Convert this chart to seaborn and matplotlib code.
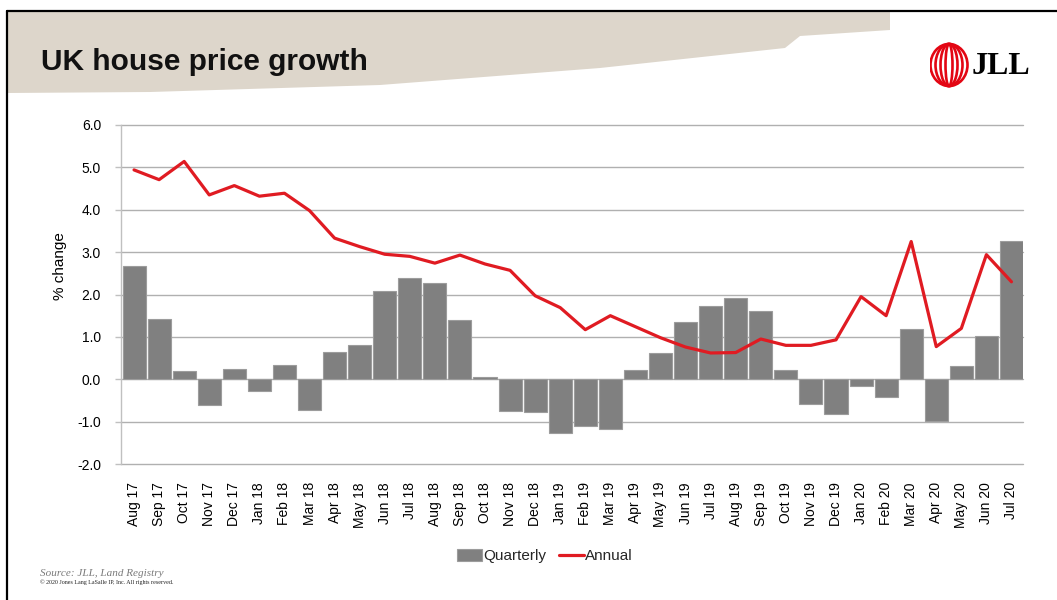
import numpy as np
import pandas as pd
import matplotlib
matplotlib.use("Agg")
import matplotlib.pyplot as plt
import seaborn as sns
from matplotlib.patches import Polygon, Ellipse, Patch
from matplotlib.lines import Line2D

# ---- data ----
months = ["Aug 17", "Sep 17", "Oct 17", "Nov 17", "Dec 17", "Jan 18", "Feb 18", "Mar 18",
          "Apr 18", "May 18", "Jun 18", "Jul 18", "Aug 18", "Sep 18", "Oct 18", "Nov 18",
          "Dec 18", "Jan 19", "Feb 19", "Mar 19", "Apr 19", "May 19", "Jun 19", "Jul 19",
          "Aug 19", "Sep 19", "Oct 19", "Nov 19", "Dec 19", "Jan 20", "Feb 20", "Mar 20",
          "Apr 20", "May 20", "Jun 20", "Jul 20"]
quarterly = [2.67, 1.42, 0.20, -0.60, 0.24, -0.28, 0.34, -0.72,
             0.65, 0.80, 2.09, 2.38, 2.27, 1.39, 0.06, -0.76,
             -0.78, -1.28, -1.10, -1.17, 0.23, 0.61, 1.34, 1.72,
             1.91, 1.60, 0.22, -0.58, -0.82, -0.16, -0.43, 1.18,
             -0.99, 0.31, 1.03, 3.26]
annual = [4.94, 4.71, 5.14, 4.35, 4.57, 4.32, 4.39, 3.98,
          3.33, 3.13, 2.95, 2.90, 2.74, 2.93, 2.72, 2.57,
          1.97, 1.69, 1.17, 1.50, 1.24, 0.98, 0.76, 0.62,
          0.63, 0.95, 0.80, 0.80, 0.93, 1.95, 1.50, 3.25,
          0.77, 1.20, 2.94, 2.30]
y_ticks = [-2.0, -1.0, 0.0, 1.0, 2.0, 3.0, 4.0, 5.0, 6.0]
series_names = ["Quarterly", "Annual"]

W, H = 1057, 600
BAR = "#808080"
RED = "#e01b22"

sns.set_theme(style="white")
plt.rcParams["font.family"] = ["Liberation Sans", "DejaVu Sans"]

fig = plt.figure(figsize=(W / 100, H / 100), dpi=100)
fig.patch.set_facecolor("white")


def fx(x):
    return x / W


def fy(y):
    return 1 - y / H


# beige brush background behind title
pts = [(8, 11), (890, 11), (890, 30), (800, 36), (785, 48), (600, 68),
       (380, 85), (150, 92), (8, 93)]
fig.add_artist(Polygon([(fx(x), fy(y)) for x, y in pts], closed=True,
                       transform=fig.transFigure, facecolor="#ddd6cb",
                       edgecolor="none", zorder=0))
# slide border
fig.add_artist(Line2D([fx(7), fx(7)], [fy(11), fy(600)], transform=fig.transFigure,
                      color="black", lw=1.6, zorder=1))
fig.add_artist(Line2D([fx(7), fx(1057)], [fy(11), fy(11)], transform=fig.transFigure,
                      color="black", lw=1.6, zorder=1))

ax = fig.add_axes([fx(120.5), fy(464), fx(1023) - fx(120.5), fy(125) - fy(464)])

df = pd.DataFrame({"month": months, "quarterly": quarterly, "annual": annual})

sns.barplot(data=df, x="month", y="quarterly", color=BAR, saturation=1,
            width=0.92, edgecolor="#9c9c9c", linewidth=0.8, ax=ax, zorder=2)
sns.pointplot(data=df, x="month", y="annual", color=RED, markers="",
              errorbar=None, linewidth=2.3, ax=ax, zorder=3)

ax.set_ylim(-2.0, 6.0)
ax.set_xlim(-0.54, 35.46)
ax.set_yticks(y_ticks)
ax.set_yticklabels([f"{v:.1f}" for v in y_ticks], fontsize=10, color="black")
ax.set_xticks(range(len(months)))
ax.set_xticklabels(months, rotation=90, fontsize=10, color="black")
ax.set_xlabel("")
ax.set_ylabel("")
ax.grid(axis="y", color="#b0b0b0", lw=1.0, zorder=0)
ax.grid(axis="x", visible=False)
for gl in ax.get_ygridlines():
    gl.set_clip_on(False)
ax.set_axisbelow(True)
for s in ["top", "right", "bottom"]:
    ax.spines[s].set_visible(False)
ax.spines["left"].set_color("#c0c0c0")
ax.spines["left"].set_linewidth(1.0)
ax.tick_params(axis="y", which="both", left=True, length=4, width=1,
               color="#c0c0c0", pad=10)
ax.tick_params(axis="x", bottom=False, pad=7)

fig.text(fx(60), fy(266), "% change", rotation=90, fontsize=11,
         ha="center", va="center", color="black")

# title
fig.text(fx(41), fy(62), "UK house price growth", fontsize=21.5, fontweight="bold",
         ha="left", va="center", color="#111111")

# logo
lax = fig.add_axes([fx(930), fy(88), fx(42), fy(42) - fy(88)])
lax.set_xlim(0, 42)
lax.set_ylim(0, 46)
lax.axis("off")
for wdt in [37, 27, 17, 7]:
    lax.add_patch(Ellipse((19, 23), wdt, 42, facecolor="none",
                          edgecolor="#e30613", lw=1.9))
fig.text(fx(972), fy(67), "JLL", fontsize=23, fontweight="bold",
         family=["Liberation Serif", "DejaVu Serif"], ha="left", va="center",
         color="black")

# legend
handles = [Patch(facecolor=BAR, edgecolor="#9c9c9c", lw=0.8),
           Line2D([0], [0], color=RED, lw=2.3)]
fig.legend(handles, series_names, loc="center", bbox_to_anchor=(fx(545), fy(556)),
           ncol=2, frameon=False, fontsize=11, handlelength=1.6,
           handletextpad=0.1, columnspacing=0.85, handleheight=0.8)

# source
fig.text(fx(40), fy(574), "Source: JLL, Land Registry", fontsize=8, style="italic",
         family=["Liberation Serif", "DejaVu Serif"], color="#7a7a7a",
         ha="left", va="center")
fig.text(fx(40), fy(582), "\u00a9 2020 Jones Lang LaSalle IP, Inc. All rights reserved.",
         fontsize=4.3, family=["Liberation Serif", "DejaVu Serif"], color="#222222",
         ha="left", va="center")

fig.savefig("out.png", dpi=100)
